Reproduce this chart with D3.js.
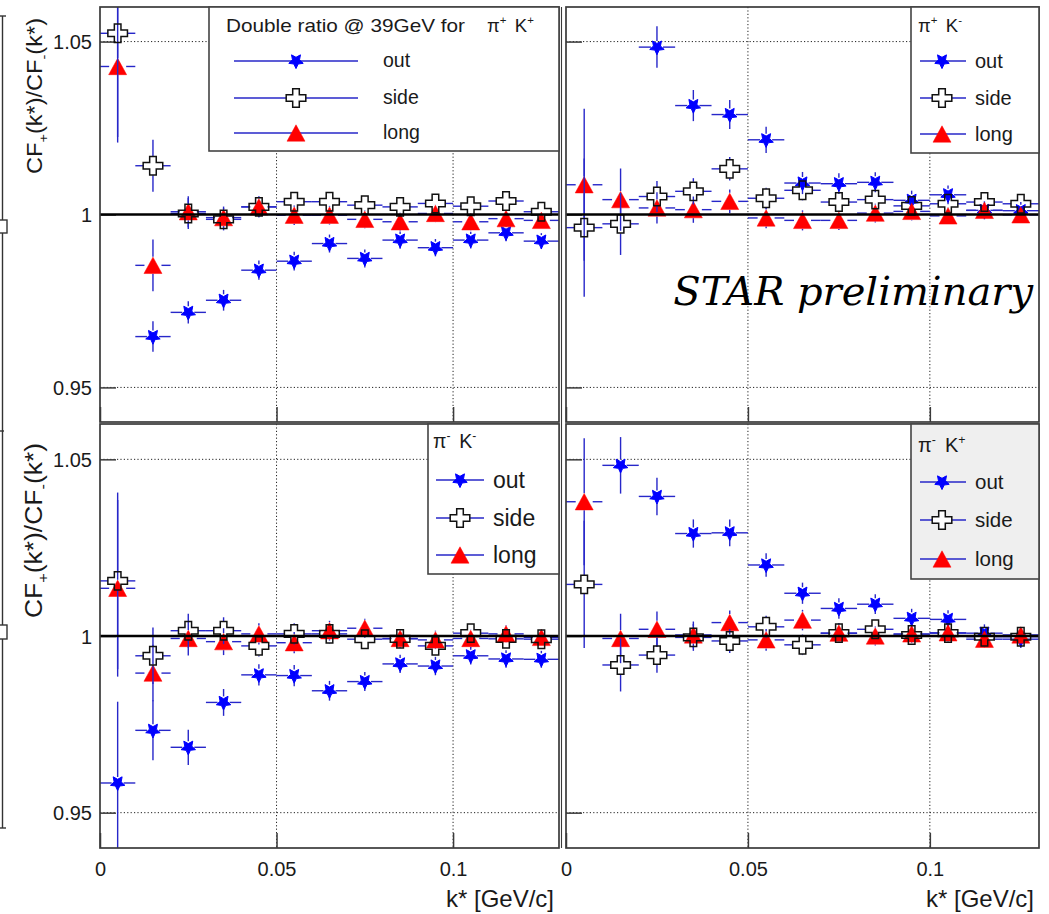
<!DOCTYPE html>
<html>
<head>
<meta charset="utf-8">
<script src="https://cdn.jsdelivr.net/npm/d3@7"></script>
<style>
  body { margin: 0; background: #ffffff; }
  svg { display: block; }
</style>
</head>
<body>
<svg id="chart" width="1049" height="914"></svg>
<script>
// ---- data -------------------------------------------------------------
// bin centres of k* (GeV/c) and half bin width
const kStar = [0.005, 0.015, 0.025, 0.035, 0.045, 0.055, 0.065, 0.075, 0.085, 0.095, 0.105, 0.115, 0.125];
const kHalfBin = 0.005;

const xTickValues = [0, 0.05, 0.1];
const xTickLabels = ["0", "0.05", "0.1"];
const yTickValues = [0.95, 1, 1.05];
const yTickLabels = ["0.95", "1", "1.05"];
const seriesNames = ["out", "side", "long"];

// pi+ K+  (null = outside the plotted range)
const pipKp_out     = [null, 0.9647, 0.9717, 0.9752, 0.9839, 0.9865, 0.9916, 0.9873, 0.9926, 0.9904, 0.9926, 0.9947, 0.9923];
const pipKp_outErr  = [null, 0.0044, 0.0032, 0.0030, 0.0028, 0.0027, 0.0026, 0.0026, 0.0025, 0.0025, 0.0024, 0.0024, 0.0023];
const pipKp_side    = [1.0524, 1.0141, 1.0003, 0.9986, 1.0022, 1.0037, 1.0037, 1.0027, 1.0022, 1.0032, 1.0024, 1.0039, 1.0008];
const pipKp_sideErr = [0.030, 0.0075, 0.0045, 0.0032, 0.0030, 0.0028, 0.0027, 0.0026, 0.0026, 0.0025, 0.0025, 0.0024, 0.0023];
const pipKp_long    = [1.0428, 0.9853, 1.0008, 0.9991, 1.0022, 0.9998, 0.9998, 0.9986, 0.9979, 1.0003, 0.9979, 0.9988, 0.9983];
const pipKp_longErr = [0.022, 0.0075, 0.0045, 0.0032, 0.0030, 0.0028, 0.0027, 0.0026, 0.0026, 0.0025, 0.0025, 0.0024, 0.0023];

// pi+ K-
const pipKm_out     = [null, null, 1.0484, 1.0315, 1.0289, 1.0216, 1.0091, 1.0089, 1.0093, 1.0041, 1.0057, 1.0012, 1.0011];
const pipKm_outErr  = [null, null, 0.0060, 0.0045, 0.0042, 0.0038, 0.0032, 0.0030, 0.0029, 0.0028, 0.0027, 0.0026, 0.0025];
const pipKm_side    = [0.9962, 0.9973, 1.0052, 1.0067, 1.0132, 1.0047, 1.0070, 1.0036, 1.0043, 1.0025, 1.0031, 1.0036, 1.0031];
const pipKm_sideErr = [0.020, 0.009, 0.0045, 0.0038, 0.0034, 0.0030, 0.0029, 0.0028, 0.0027, 0.0026, 0.0025, 0.0025, 0.0024];
const pipKm_long    = [1.0086, 1.0043, 1.0019, 1.0014, 1.0038, 0.9990, 0.9983, 0.9983, 1.0004, 1.0009, 0.9996, 1.0012, 0.9999];
const pipKm_longErr = [0.022, 0.009, 0.0045, 0.0038, 0.0034, 0.0030, 0.0029, 0.0028, 0.0027, 0.0026, 0.0025, 0.0025, 0.0024];

// pi- K-
const pimKm_out     = [0.9584, 0.9733, 0.9685, 0.9812, 0.9890, 0.9888, 0.9845, 0.9871, 0.9921, 0.9915, 0.9944, 0.9935, 0.9934];
const pimKm_outErr  = [0.023, 0.0085, 0.0050, 0.0038, 0.0030, 0.0030, 0.0028, 0.0027, 0.0026, 0.0026, 0.0025, 0.0025, 0.0024];
const pimKm_side    = [1.0156, 0.9944, 1.0015, 1.0015, 0.9972, 1.0006, 1.0006, 0.9991, 0.9992, 0.9972, 1.0008, 0.9992, 0.9991];
const pimKm_sideErr = [0.025, 0.008, 0.0048, 0.0038, 0.0030, 0.0030, 0.0028, 0.0027, 0.0026, 0.0026, 0.0025, 0.0025, 0.0024];
const pimKm_long    = [1.0135, 0.9895, 0.9993, 0.9984, 1.0006, 0.9981, 1.0015, 1.0022, 0.9993, 0.9989, 0.9993, 1.0006, 0.9996];
const pimKm_longErr = [0.025, 0.008, 0.0048, 0.0038, 0.0030, 0.0030, 0.0028, 0.0027, 0.0026, 0.0026, 0.0025, 0.0025, 0.0024];

// pi- K+
const pimKp_out     = [null, 1.0483, 1.0395, 1.0290, 1.0292, 1.0201, 1.0121, 1.0078, 1.0090, 1.0050, 1.0047, 1.0008, 0.9991];
const pimKp_outErr  = [null, 0.008, 0.0053, 0.0040, 0.0038, 0.0033, 0.0030, 0.0029, 0.0028, 0.0027, 0.0026, 0.0025, 0.0025];
const pimKp_side    = [1.0146, 0.9918, 0.9946, 0.9996, 0.9986, 1.0026, 0.9975, 1.0008, 1.0019, 1.0003, 1.0008, 0.9998, 0.9998];
const pimKp_sideErr = [0.018, 0.0075, 0.0050, 0.0038, 0.0034, 0.0031, 0.0029, 0.0028, 0.0027, 0.0026, 0.0025, 0.0025, 0.0024];
const pimKp_long    = [1.0380, 0.9993, 1.0019, 1.0003, 1.0038, 0.9989, 1.0045, 1.0008, 1.0000, 1.0006, 1.0009, 0.9991, 1.0003];
const pimKp_longErr = [0.018, 0.0070, 0.0050, 0.0038, 0.0034, 0.0031, 0.0029, 0.0028, 0.0027, 0.0026, 0.0025, 0.0025, 0.0024];

// ---- layout -----------------------------------------------------------
const SANS = "'Liberation Sans', Arial, Helvetica, sans-serif";
const BLUE_LINE = "#2727c9";
const FRAME = "#3a3a3a";

const panels = [
  { id: "tl", x0: 100, x1: 559, y0: 7, y1: 422, yLabels: true, xLabels: false,
    series: [pipKp_out, pipKp_side, pipKp_long], errs: [pipKp_outErr, pipKp_sideErr, pipKp_longErr],
    legend: { x0: 209, y0: 7, x1: 559, y1: 151, fill: "#ffffff", lx0: 234, lx1: 358, mx: 296, tx: 383,
              rows: [61, 98, 133], fs: 19.5,
              title: { text: "Double ratio @ 39GeV for", x: 226, y: 32, fs: 19, len: 239 },
              pair: { pi: "+", k: "+", x: 487, y: 32, fs: 18.5 } },
    yTitle: { yStart: 174, len: 156, fs: 22 } },
  { id: "tr", x0: 566, x1: 1039, y0: 7, y1: 422, yLabels: false, xLabels: false,
    series: [pipKm_out, pipKm_side, pipKm_long], errs: [pipKm_outErr, pipKm_sideErr, pipKm_longErr],
    legend: { x0: 911, y0: 7, x1: 1039, y1: 153, fill: "#ffffff", lx0: 920, lx1: 966, mx: 942, tx: 975,
              rows: [61, 98, 134], fs: 20,
              pair: { pi: "+", k: "-", x: 918, y: 32, fs: 18.5 } } },
  { id: "bl", x0: 100, x1: 559, y0: 424, y1: 848, yLabels: true, xLabels: true,
    series: [pimKm_out, pimKm_side, pimKm_long], errs: [pimKm_outErr, pimKm_sideErr, pimKm_longErr],
    legend: { x0: 428, y0: 424, x1: 559, y1: 574, fill: "#ffffff", lx0: 436, lx1: 484, mx: 460, tx: 493,
              rows: [480, 518, 555], fs: 23,
              pair: { pi: "-", k: "-", x: 433, y: 448, fs: 19.5 } },
    yTitle: { yStart: 618, len: 175, fs: 23 } },
  { id: "br", x0: 566, x1: 1039, y0: 424, y1: 848, yLabels: false, xLabels: true,
    series: [pimKp_out, pimKp_side, pimKp_long], errs: [pimKp_outErr, pimKp_sideErr, pimKp_longErr],
    legend: { x0: 911, y0: 424, x1: 1039, y1: 579, fill: "#efefef", lx0: 920, lx1: 966, mx: 942, tx: 975,
              rows: [482, 520, 559], fs: 20.5,
              pair: { pi: "-", k: "+", x: 918, y: 452, fs: 20 } } }
];

// ---- marker shapes --------------------------------------------------------
function starPath(R, r) {
  // five-pointed star with one point facing down
  const p = d3.path();
  for (let i = 0; i < 10; i++) {
    const a = Math.PI / 2 + i * Math.PI / 5;
    const rad = i % 2 === 0 ? R : r;
    const px = rad * Math.cos(a), py = rad * Math.sin(a);
    if (i === 0) p.moveTo(px, py); else p.lineTo(px, py);
  }
  p.closePath();
  return p.toString();
}
function crossPath(wx, wy, a) {
  const p = d3.path();
  const pts = [[-a,-wy],[a,-wy],[a,-a],[wx,-a],[wx,a],[a,a],[a,wy],[-a,wy],[-a,a],[-wx,a],[-wx,-a],[-a,-a]];
  pts.forEach((q, i) => i ? p.lineTo(q[0], q[1]) : p.moveTo(q[0], q[1]));
  p.closePath();
  return p.toString();
}
function trianglePath(w, h) {
  const p = d3.path();
  p.moveTo(-w, h); p.lineTo(w, h); p.lineTo(0, -h); p.closePath();
  return p.toString();
}

const markerStyle = {
  out:  { d: starPath(7.6, 3.7), fill: "#0000ff", stroke: "#0000ff", sw: 1, gap: 6 },
  side: { d: crossPath(9.8, 9.2, 3.3), fill: "none", stroke: "#111111", sw: 1.5, gap: 9.5 },
  long: { d: trianglePath(9, 8.2), fill: "#ff0000", stroke: "#ff0000", sw: 0.5, gap: 8.5 }
};

// ---- drawing --------------------------------------------------------------
const svg = d3.select("#chart");
const defs = svg.append("defs");

// edge of a neighbouring figure visible at the left border
const edge = svg.append("g").attr("stroke", "#333").attr("fill", "none").attr("stroke-width", 1.4);
edge.append("line").attr("x1", 2.5).attr("x2", 2.5).attr("y1", 16).attr("y2", 828);
edge.append("line").attr("x1", 0).attr("x2", 6).attr("y1", 16).attr("y2", 16);
edge.append("line").attr("x1", 0).attr("x2", 4).attr("y1", 431).attr("y2", 431);
edge.append("line").attr("x1", 0).attr("x2", 6).attr("y1", 828).attr("y2", 828);
edge.append("rect").attr("x", -5).attr("y", 220).attr("width", 12).attr("height", 13).attr("fill", "#fff");
edge.append("rect").attr("x", -5).attr("y", 625).attr("width", 12).attr("height", 14).attr("fill", "#fff");

function drawMarker(g, name, cx, cy, legendFill) {
  const s = markerStyle[name];
  g.append("path")
    .attr("d", s.d)
    .attr("transform", `translate(${cx},${cy})`)
    .attr("fill", legendFill && name === "side" ? "#ffffff" : s.fill)
    .attr("stroke", s.stroke)
    .attr("stroke-width", s.sw)
    .attr("stroke-linejoin", "miter");
}

function supText(g, base, sup, x, y, fs) {
  const t = g.append("text").attr("x", x).attr("y", y)
    .attr("font-family", SANS).attr("font-size", fs).attr("fill", "#1a1a1a");
  t.append("tspan").text(base);
  t.append("tspan").attr("font-size", fs * 0.62).attr("dy", -fs * 0.42).text(sup);
  return t;
}

panels.forEach(P => {
  const x = d3.scaleLinear().domain([0, 0.13]).range([P.x0, P.x1]);
  const y = d3.scaleLinear().domain([0.94, 1.06]).range([P.y1, P.y0]);
  const g = svg.append("g").attr("class", "pad-" + P.id);

  defs.append("clipPath").attr("id", "clip-" + P.id)
    .append("rect").attr("x", P.x0).attr("y", P.y0)
    .attr("width", P.x1 - P.x0).attr("height", P.y1 - P.y0);

  g.append("rect").attr("x", P.x0).attr("y", P.y0)
    .attr("width", P.x1 - P.x0).attr("height", P.y1 - P.y0).attr("fill", "#ffffff");

  // dotted grid
  const grid = g.append("g").attr("stroke", "#222").attr("stroke-width", 1)
    .attr("stroke-dasharray", "1.2,2.2");
  [0.05, 0.1].forEach(v => grid.append("line")
    .attr("x1", x(v)).attr("x2", x(v)).attr("y1", P.y0).attr("y2", P.y1));
  [0.95, 1.05].forEach(v => grid.append("line")
    .attr("x1", P.x0).attr("x2", P.x1).attr("y1", y(v)).attr("y2", y(v)));

  // axes: ticks drawn inward from the frame
  const yAxis = d3.axisLeft(y).tickValues(yTickValues)
    .tickFormat((d, i) => P.yLabels ? yTickLabels[i] : "")
    .tickSizeInner(-16).tickSizeOuter(0).tickPadding(8);
  const ya = g.append("g").attr("transform", `translate(${P.x0},0)`).call(yAxis);
  ya.select(".domain").remove();
  ya.selectAll("line").attr("stroke", FRAME).attr("stroke-width", 1.5);
  ya.selectAll("text").attr("font-family", SANS).attr("font-size", 20).attr("fill", "#1a1a1a")
    .attr("dy", "0.36em");

  const xAxis = d3.axisBottom(x).tickValues(xTickValues)
    .tickFormat((d, i) => P.xLabels ? xTickLabels[i] : "")
    .tickSizeInner(-15).tickSizeOuter(0).tickPadding(10);
  const xa = g.append("g").attr("transform", `translate(0,${P.y1})`).call(xAxis);
  xa.select(".domain").remove();
  xa.selectAll("line").attr("stroke", FRAME).attr("stroke-width", 1.5);
  xa.selectAll("text").attr("font-family", SANS).attr("font-size", 20).attr("fill", "#1a1a1a")
    .attr("dy", "0.9em");

  // data: error bars and markers, drawn per graph (out, long, side)
  const plot = g.append("g").attr("clip-path", `url(#clip-${P.id})`);
  [0, 2, 1].forEach(si => {
    const name = seriesNames[si];
    const vals = P.series[si], errs = P.errs[si];
    const st = markerStyle[name];
    const eg = plot.append("g").attr("stroke", BLUE_LINE).attr("stroke-width", 1.4).attr("fill", "none");
    const mg = plot.append("g");
    kStar.forEach((k, i) => {
      const v = vals[i];
      if (v === null) return;
      const cx = x(k), cy = y(v);
      const dxl = cx - x(k - kHalfBin), dxr = x(k + kHalfBin) - cx;
      const dyu = cy - y(v + errs[i]), dyd = y(v - errs[i]) - cy;
      const gap = st.gap;
      eg.append("line").attr("x1", cx - dxl).attr("x2", cx - gap).attr("y1", cy).attr("y2", cy);
      eg.append("line").attr("x1", cx + gap).attr("x2", cx + dxr).attr("y1", cy).attr("y2", cy);
      if (dyu > gap) eg.append("line").attr("x1", cx).attr("x2", cx).attr("y1", cy - dyu).attr("y2", cy - gap);
      if (dyd > gap) eg.append("line").attr("x1", cx).attr("x2", cx).attr("y1", cy + gap).attr("y2", cy + dyd);
      drawMarker(mg, name, cx, cy, false);
    });
  });

  // unity reference line
  g.append("line").attr("x1", P.x0).attr("x2", P.x1).attr("y1", y(1)).attr("y2", y(1))
    .attr("stroke", "#000").attr("stroke-width", 2.6);

  // frame
  g.append("rect").attr("x", P.x0).attr("y", P.y0)
    .attr("width", P.x1 - P.x0).attr("height", P.y1 - P.y0)
    .attr("fill", "none").attr("stroke", FRAME).attr("stroke-width", 1.7);

  // legend
  const L = P.legend;
  const lg = g.append("g");
  lg.append("rect").attr("x", L.x0).attr("y", L.y0).attr("width", L.x1 - L.x0).attr("height", L.y1 - L.y0)
    .attr("fill", L.fill).attr("stroke", "#444").attr("stroke-width", 1.6);
  if (L.title) {
    lg.append("text").attr("x", L.title.x).attr("y", L.title.y)
      .attr("font-family", SANS).attr("font-size", L.title.fs).attr("fill", "#1a1a1a")
      .attr("textLength", L.title.len).attr("lengthAdjust", "spacingAndGlyphs")
      .text(L.title.text);
  }
  const pr = L.pair;
  const piT = supText(lg, "\u03c0", pr.pi === "+" ? "+" : "-", pr.x, pr.y, pr.fs);
  const piW = piT.node().getComputedTextLength();
  supText(lg, "K", pr.k === "+" ? "+" : "-", pr.x + piW + pr.fs * 0.45, pr.y, pr.fs);

  seriesNames.forEach((name, i) => {
    const ry = L.rows[i];
    lg.append("line").attr("x1", L.lx0).attr("x2", L.lx1).attr("y1", ry).attr("y2", ry)
      .attr("stroke", BLUE_LINE).attr("stroke-width", 1.5);
    drawMarker(lg, name, L.mx, ry, true);
    lg.append("text").attr("x", L.tx).attr("y", ry + L.fs * 0.33)
      .attr("font-family", SANS).attr("font-size", L.fs).attr("fill", "#1a1a1a").text(name);
  });

  // y-axis title (left pads only)
  if (P.yTitle) {
    const T = P.yTitle, fs = T.fs, cx = 42;
    const t = g.append("text")
      .attr("transform", `translate(${cx},${T.yStart}) rotate(-90)`)
      .attr("font-family", SANS).attr("font-size", fs).attr("fill", "#1a1a1a")
      .attr("textLength", T.len).attr("lengthAdjust", "spacingAndGlyphs");
    t.append("tspan").text("CF");
    t.append("tspan").attr("font-size", fs * 0.62).attr("dy", fs * 0.28).text("+");
    t.append("tspan").attr("dy", -fs * 0.28).text("(k*)/CF");
    t.append("tspan").attr("font-size", fs * 0.62).attr("dy", fs * 0.28).text("-");
    t.append("tspan").attr("dy", -fs * 0.28).text("(k*)");
  }

  // x-axis title (bottom pads only)
  if (P.xLabels) {
    g.append("text").attr("x", P.x1 - 5).attr("y", 907).attr("text-anchor", "end")
      .attr("font-family", SANS).attr("font-size", 24).attr("fill", "#1a1a1a").text("k* [GeV/c]");
  }
});

// second border line between the left and right columns
svg.append("line").attr("x1", 561.5).attr("x2", 561.5).attr("y1", 7).attr("y2", 848)
  .attr("stroke", FRAME).attr("stroke-width", 1.1);

// preliminary tag
svg.append("text").attr("x", 1033).attr("y", 305).attr("text-anchor", "end")
  .attr("font-family", "'DejaVu Serif', 'Liberation Serif', serif").attr("font-style", "italic")
  .attr("font-size", 40).attr("fill", "#000").text("STAR preliminary");
</script>
</body>
</html>
